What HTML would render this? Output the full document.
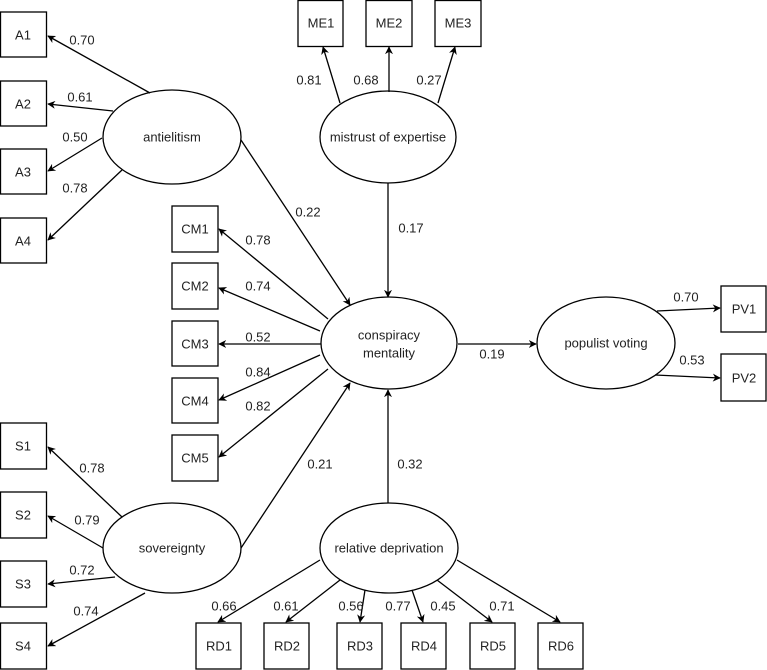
<!DOCTYPE html>
<html><head><meta charset="utf-8"><style>
html,body{margin:0;padding:0;background:#fff;}
svg{display:block;}
text{font-family:"Liberation Sans",Arial,sans-serif;font-size:13px;fill:#222;}
</style></head><body>
<svg width="767" height="670" viewBox="0 0 767 670" xmlns="http://www.w3.org/2000/svg">
<defs>
<marker id="ar" viewBox="0 0 10 10" refX="9" refY="5" markerWidth="8" markerHeight="8" orient="auto" markerUnits="userSpaceOnUse">
<path d="M0,0 L10,5 L0,10 L3,5 z" fill="#000"/>
</marker>
</defs>
<g fill="#fff" stroke="#000" stroke-width="1.3">
<rect x="0.5" y="12" width="46" height="45"/>
<rect x="0.5" y="81" width="46" height="45"/>
<rect x="0.5" y="149" width="46" height="45"/>
<rect x="0.5" y="218" width="46" height="45"/>
<rect x="0.5" y="423" width="46" height="46"/>
<rect x="0.5" y="492" width="46" height="46"/>
<rect x="0.5" y="561" width="46" height="46"/>
<rect x="0.5" y="623" width="46" height="46"/>
<rect x="298" y="0.5" width="45" height="46"/>
<rect x="366" y="0.5" width="46" height="46"/>
<rect x="435" y="0.5" width="46" height="46"/>
<rect x="172" y="206" width="46" height="46"/>
<rect x="172" y="263" width="46" height="46"/>
<rect x="172" y="321" width="46" height="45"/>
<rect x="172" y="378" width="46" height="45"/>
<rect x="172" y="435" width="46" height="46"/>
<rect x="721" y="286" width="45" height="46"/>
<rect x="721" y="354" width="45" height="47"/>
<rect x="196" y="623" width="45" height="46"/>
<rect x="264" y="623" width="45" height="46"/>
<rect x="337" y="623" width="45" height="46"/>
<rect x="401" y="623" width="45" height="46"/>
<rect x="470" y="623" width="45" height="46"/>
<rect x="538" y="623" width="45" height="46"/>
<ellipse cx="172" cy="137" rx="69" ry="47"/>
<ellipse cx="388" cy="137" rx="68" ry="46"/>
<ellipse cx="389" cy="343" rx="68" ry="46"/>
<ellipse cx="606" cy="343" rx="69" ry="46"/>
<ellipse cx="172" cy="548" rx="69" ry="45"/>
<ellipse cx="389" cy="548" rx="69" ry="45"/>
</g>
<g stroke="#000" stroke-width="1.3" fill="none" marker-end="url(#ar)">
<line x1="150" y1="93" x2="48" y2="36"/>
<line x1="113" y1="111" x2="48" y2="104"/>
<line x1="102" y1="138" x2="48" y2="171"/>
<line x1="122" y1="170" x2="48" y2="240"/>
<line x1="241" y1="140" x2="350" y2="305"/>
<line x1="340" y1="103" x2="323" y2="47"/>
<line x1="389" y1="92" x2="389" y2="47"/>
<line x1="438" y1="103" x2="455" y2="47"/>
<line x1="388" y1="183" x2="388" y2="297"/>
<line x1="328" y1="319" x2="219" y2="229"/>
<line x1="320" y1="331" x2="219" y2="288"/>
<line x1="321" y1="344" x2="219" y2="344"/>
<line x1="320" y1="355" x2="219" y2="400"/>
<line x1="328" y1="369" x2="219" y2="457"/>
<line x1="458" y1="344" x2="536" y2="344"/>
<line x1="657" y1="311" x2="720" y2="308"/>
<line x1="655" y1="375" x2="720" y2="378"/>
<line x1="122" y1="517" x2="48" y2="447"/>
<line x1="103" y1="548" x2="48" y2="516"/>
<line x1="115" y1="577" x2="48" y2="584"/>
<line x1="145" y1="593" x2="48" y2="646"/>
<line x1="241" y1="548" x2="350" y2="383"/>
<line x1="388" y1="503" x2="388" y2="390"/>
<line x1="320" y1="560" x2="218" y2="622"/>
<line x1="340" y1="580" x2="286" y2="622"/>
<line x1="365" y1="590" x2="360" y2="622"/>
<line x1="412" y1="590" x2="423" y2="622"/>
<line x1="437" y1="580" x2="492" y2="622"/>
<line x1="457" y1="560" x2="560" y2="622"/>
</g>
<g text-anchor="middle" dominant-baseline="central">
<text x="23" y="35">A1</text><text x="23" y="104">A2</text><text x="23" y="172">A3</text><text x="23" y="241">A4</text>
<text x="23" y="446">S1</text><text x="23" y="515">S2</text><text x="23" y="584">S3</text><text x="23" y="646">S4</text>
<text x="321" y="23">ME1</text><text x="389" y="23">ME2</text><text x="458" y="23">ME3</text>
<text x="195" y="229">CM1</text><text x="195" y="286">CM2</text><text x="195" y="344">CM3</text><text x="195" y="401">CM4</text><text x="195" y="458">CM5</text>
<text x="744" y="309">PV1</text><text x="744" y="378">PV2</text>
<text x="219" y="646">RD1</text><text x="287" y="646">RD2</text><text x="360" y="646">RD3</text><text x="424" y="646">RD4</text><text x="493" y="646">RD5</text><text x="561" y="646">RD6</text>
<text x="172" y="137">antielitism</text>
<text x="388" y="137">mistrust of expertise</text>
<text x="389" y="335">conspiracy</text><text x="389" y="353">mentality</text>
<text x="606" y="343">populist voting</text>
<text x="172" y="548">sovereignty</text>
<text x="389" y="548">relative deprivation</text>
<text x="82" y="40">0.70</text><text x="80" y="97">0.61</text><text x="75" y="137">0.50</text><text x="75" y="188">0.78</text>
<text x="308" y="212">0.22</text>
<text x="309" y="80">0.81</text><text x="366" y="80">0.68</text><text x="429" y="80">0.27</text>
<text x="411" y="228">0.17</text>
<text x="258" y="240">0.78</text><text x="258" y="286">0.74</text><text x="258" y="337">0.52</text><text x="258" y="372">0.84</text><text x="258" y="406">0.82</text>
<text x="492" y="354">0.19</text>
<text x="686" y="297">0.70</text><text x="692" y="360">0.53</text>
<text x="92" y="468">0.78</text><text x="87" y="520">0.79</text><text x="82" y="570">0.72</text><text x="86" y="611">0.74</text>
<text x="320" y="464">0.21</text><text x="410" y="464">0.32</text>
<text x="224" y="606">0.66</text><text x="286" y="606">0.61</text><text x="351" y="606">0.56</text><text x="398" y="606">0.77</text><text x="443" y="606">0.45</text><text x="502" y="606">0.71</text>
</g>
</svg>
</body></html>
